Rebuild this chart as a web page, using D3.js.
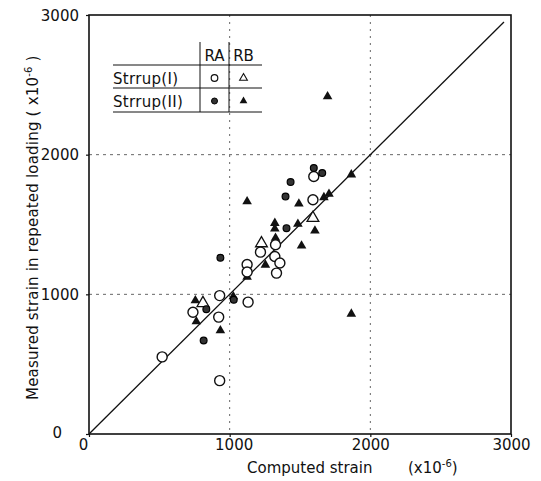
<!DOCTYPE html>
<html><head><meta charset="utf-8">
<script src="https://cdn.jsdelivr.net/npm/d3@7"></script>
<style>body{margin:0;background:#fff}svg{display:block}text{font-family:"DejaVu Sans",sans-serif;fill:#111}</style>
</head><body>
<script>
// Data (computed strain, measured strain) x10^-6
const raI = [[520,552],[1598,1844],[1592,1677],[1219,1302],[1321,1271],[1124,1214],[1357,1224],[1124,1160],[1333,1152],[1326,1355],[929,991],[1131,944],[739,872],[922,837],[929,382]];
const raII = [[1598,1905],[1658,1869],[1433,1804],[1397,1701],[1404,1474],[934,1262],[1029,961],[834,894],[815,669]];
const rbI = [[1592,1546],[1226,1365],[810,937]];
const rbII = [[1865,1857],[1124,1665],[1492,1649],[1670,1694],[1706,1718],[1321,1510],[1321,1470],[1485,1503],[1606,1455],[1326,1403],[1511,1348],[1254,1211],[1124,1124],[1026,984],[756,956],[763,805],[934,741],[1865,860],[1696,2416]];
const tickValues = [0,1000,2000,3000];
const legendRows = ["Strrup(I)","Strrup(II)"];
const legendCols = ["RA","RB"];

const W=541,H=481;
const svg=d3.select("body").append("svg").attr("width",W).attr("height",H);
const x=d3.scaleLinear().domain([0,3000]).range([89,511]);
const y=d3.scaleLinear().domain([0,3000]).range([434,15]);

// grid
const g=svg.append("g");
[1000,2000].forEach(v=>{
  g.append("line").attr("x1",x(v)).attr("x2",x(v)).attr("y1",y(3000)).attr("y2",y(0))
   .attr("stroke","#555").attr("stroke-width",0.9).attr("stroke-dasharray","2,5");
  g.append("line").attr("y1",y(v)).attr("y2",y(v)).attr("x1",x(0)).attr("x2",x(3000))
   .attr("stroke","#555").attr("stroke-width",0.9).attr("stroke-dasharray","3,4");
});

// axes
const xa=svg.append("g").attr("transform",`translate(0,${y(0)})`)
  .call(d3.axisBottom(x).tickValues(tickValues).tickSize(3).tickFormat(d3.format("d")));
const ya=svg.append("g").attr("transform",`translate(${x(0)},0)`)
  .call(d3.axisLeft(y).tickValues(tickValues).tickSize(3).tickFormat(d3.format("d")));
[xa,ya].forEach(a=>{a.select(".domain").remove();a.selectAll("line").attr("stroke","#111").attr("stroke-width",1.2);
  a.selectAll("text").attr("font-size",15).attr("font-family","DejaVu Sans").attr("fill","#111");});
xa.selectAll("text").attr("y",4).attr("dy","0.78em")
  .attr("dx",d=>d===0?-6:(d===1000?4:0));
ya.selectAll("text").attr("x",d=>d===0?-27:-10).attr("dy","0.35em").attr("y",d=>d===0?-2:0);

// frame
svg.append("rect").attr("x",x(0)).attr("y",y(3000)).attr("width",x(3000)-x(0)).attr("height",y(0)-y(3000))
  .attr("fill","none").attr("stroke","#111").attr("stroke-width",1.6);

// diagonal
svg.append("line").attr("x1",x(0)).attr("y1",y(0)).attr("x2",x(2950)).attr("y2",y(2950))
  .attr("stroke","#111").attr("stroke-width",1.3);

// symbols
const tri=(s)=>d3.symbol().type(d3.symbolTriangle).size(s)();
const pts=svg.append("g");
pts.selectAll(".rbII").data(rbII).join("path").attr("d",tri(40))
  .attr("transform",d=>`translate(${x(d[0])},${y(d[1])})`).attr("fill","#111");
pts.selectAll(".rbI").data(rbI).join("path").attr("d",tri(60))
  .attr("transform",d=>`translate(${x(d[0])},${y(d[1])})`).attr("fill","#fff").attr("stroke","#111").attr("stroke-width",1.3);
pts.selectAll(".raI").data(raI).join("circle").attr("cx",d=>x(d[0])).attr("cy",d=>y(d[1])).attr("r",5)
  .attr("fill","#fff").attr("stroke","#111").attr("stroke-width",1.4);
pts.selectAll(".raII").data(raII).join("circle").attr("cx",d=>x(d[0])).attr("cy",d=>y(d[1])).attr("r",3.4)
  .attr("fill","#333").attr("stroke","#000").attr("stroke-width",1.2);

// legend table
const L=svg.append("g");
const lx0=113, c1=200, c2=229, c3=262, ly0=42, r0=65, r1=88, r2=112;
[r0,r1,r2].forEach(yy=>L.append("line").attr("x1",lx0).attr("x2",c3).attr("y1",yy).attr("y2",yy).attr("stroke","#111").attr("stroke-width",1));
[c1,c2].forEach(xx=>L.append("line").attr("x1",xx).attr("x2",xx).attr("y1",ly0).attr("y2",r2).attr("stroke","#111").attr("stroke-width",1));
legendCols.forEach((t,i)=>L.append("text").attr("x",i===0?(c1+c2)/2:(c2+c3)/2-2).attr("y",61).attr("text-anchor","middle").attr("font-size",15).text(t));
legendRows.forEach((t,i)=>L.append("text").attr("x",lx0).attr("y",i===0?84:107).attr("font-size",15).attr("letter-spacing",0.3).text(t));
L.append("circle").attr("cx",(c1+c2)/2).attr("cy",78).attr("r",3.3).attr("fill","#fff").attr("stroke","#111").attr("stroke-width",1.2);
L.append("circle").attr("cx",(c1+c2)/2).attr("cy",101).attr("r",3).attr("fill","#333").attr("stroke","#000");
L.append("path").attr("d",tri(26)).attr("transform",`translate(${(c2+c3)/2-2},78)`).attr("fill","#fff").attr("stroke","#111").attr("stroke-width",1.1);
L.append("path").attr("d",tri(26)).attr("transform",`translate(${(c2+c3)/2-2},101)`).attr("fill","#111");

// axis titles
const xt=svg.append("text").attr("x",247).attr("y",473).attr("font-size",15);
xt.append("tspan").text("Computed strain");
xt.append("tspan").attr("x",408).text("(x10");
xt.append("tspan").attr("font-size",10).attr("dy",-6).text("-6");
xt.append("tspan").attr("dy",6).text(")");

const yt=svg.append("text").attr("transform","translate(38,400) rotate(-90)").attr("font-size",15).attr("letter-spacing",0.2);
yt.append("tspan").text("Measured strain in repeated loading ( x10");
yt.append("tspan").attr("font-size",10).attr("dy",-6).text("-6");
yt.append("tspan").attr("dy",6).text(" )");
</script>
</body></html>
